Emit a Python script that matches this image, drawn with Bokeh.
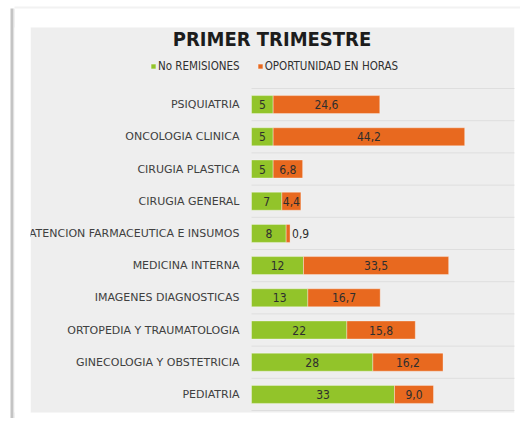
from bokeh.plotting import figure
from bokeh.models import ColumnDataSource, Legend, LegendItem, Label, BoxAnnotation
from bokeh.core.properties import value
from bokeh.embed import file_html
from bokeh.resources import INLINE

categories = ["PSIQUIATRIA", "ONCOLOGIA CLINICA", "CIRUGIA PLASTICA", "CIRUGIA GENERAL",
              "ATENCION FARMACEUTICA E INSUMOS", "MEDICINA INTERNA", "IMAGENES DIAGNOSTICAS",
              "ORTOPEDIA Y TRAUMATOLOGIA", "GINECOLOGIA Y OBSTETRICIA", "PEDIATRIA"]
remisiones = [5, 5, 5, 7, 8, 12, 13, 22, 28, 33]
oportunidad = [24.6, 44.2, 6.8, 4.4, 0.9, 33.5, 16.7, 15.8, 16.2, 9.0]
series_names = ["No REMISIONES", "OPORTUNIDAD EN HORAS"]
title_text = "PRIMER TRIMESTRE"

GREEN = "#92c42a"
ORANGE = "#e8691f"

# layout (pixels in the figure canvas)
W, H = 520, 418
X0_PX = 251          # where value 0 sits
PX_PER_UNIT = 260 / 60
TOP_PX = 88          # top of first row band
ROW_PX = 32.2

n = len(categories)
ypos = [n - i - 0.5 for i in range(n)]
bounds = list(range(0, n + 1))
total = [r + o for r, o in zip(remisiones, oportunidad)]

rem_lbl = [str(r) for r in remisiones]
op_lbl = [f"{o:.1f}".replace(".", ",") for o in oportunidad]
op_x = [r + o / 2 if o >= 2 else t for r, o, t in zip(remisiones, oportunidad, total)]
op_align = ["center" if o >= 2 else "left" for o in oportunidad]
op_off = [0 if o >= 2 else 2 for o in oportunidad]

src = ColumnDataSource(dict(y=ypos, rem=remisiones, op=oportunidad, tot=total,
                            rem_x=[r / 2 for r in remisiones], rem_lbl=rem_lbl,
                            op_x=op_x, op_lbl=op_lbl, op_align=op_align, op_off=op_off,
                            cat=categories, zero=[0] * n))

x_range = (-X0_PX / PX_PER_UNIT, (W - X0_PX) / PX_PER_UNIT)
y_range = (n - (H - TOP_PX) / ROW_PX, n + TOP_PX / ROW_PX)

p = figure(width=W, height=H, x_range=x_range, y_range=y_range,
           output_backend="svg", toolbar_location=None,
           x_axis_location=None, y_axis_location=None, min_border=0)
p.background_fill_color = "white"
p.border_fill_color = "white"
p.outline_line_color = None
p.grid.visible = False

def box(l, r, t, b, color, level):
    return BoxAnnotation(left=l, right=r, top=t, bottom=b,
                         left_units="canvas", right_units="canvas",
                         top_units="canvas", bottom_units="canvas",
                         fill_color=color, fill_alpha=1, line_color=None, level=level)

# card shadow and grey chart panel
p.add_layout(box(10, 13, 8, H, "#c4c4c4", "underlay"))
p.add_layout(box(13, 14, 8, H, "#e2e2e2", "underlay"))
p.add_layout(box(14, W, 6, 8, "#f2f2f2", "underlay"))
p.add_layout(box(30, 514, 27, 412, "#eeeeee", "underlay"))

# row separators
p.ray(x="zero", y="y", length=0, angle=0,
      source=ColumnDataSource(dict(zero=[0] * len(bounds), y=bounds)),
      line_color="#dedede", line_width=1)

r1 = p.hbar(y="y", left=0, right="rem", height=0.56, source=src,
            fill_color=GREEN, line_color="white", line_alpha=0.35, line_width=1)
r2 = p.hbar(y="y", left="rem", right="tot", height=0.56, source=src,
            fill_color=ORANGE, line_color="white", line_alpha=0.35, line_width=1)

p.text(x="rem_x", y="y", text="rem_lbl", source=src, text_align="center",
       text_baseline="middle", text_font=value("DejaVu Sans Condensed"),
       text_font_size="12px", text_color="#2e2e2e")
p.text(x="op_x", y="y", text="op_lbl", source=src, text_align="op_align", x_offset="op_off",
       text_baseline="middle", text_font=value("DejaVu Sans Condensed"),
       text_font_size="12px", text_color="#2e2e2e")

# category labels
p.text(x="zero", y="y", text="cat", source=src, x_offset=-12, text_align="right",
       text_baseline="middle", text_font=value("DejaVu Sans"), text_font_size="11px",
       text_color="#404040")

# clip at the panel edges like the original
p.add_layout(box(14, 30, 27, 412, "white", "overlay"))
p.add_layout(box(514, W, 27, 412, "white", "overlay"))

p.add_layout(Label(x=271.5, y=H - 38, x_units="screen", y_units="screen", text=title_text,
                   text_align="center", text_baseline="middle",
                   text_font="DejaVu Sans Condensed", text_font_style="bold",
                   text_font_size="20px", text_color="#1c1c1c"))

legend = Legend(items=[LegendItem(label=series_names[0], renderers=[r1]),
                       LegendItem(label=series_names[1], renderers=[r2])],
                location=(150, H - 73), orientation="horizontal",
                glyph_width=6, glyph_height=6, label_height=12, label_standoff=2,
                spacing=17, padding=0, margin=0, border_line_color=None,
                background_fill_alpha=0, label_text_font="DejaVu Sans Condensed",
                label_text_font_size="11.5px", label_text_color="#303030")
p.add_layout(legend, "center")

open("out.html", "w").write(file_html(p, INLINE))
